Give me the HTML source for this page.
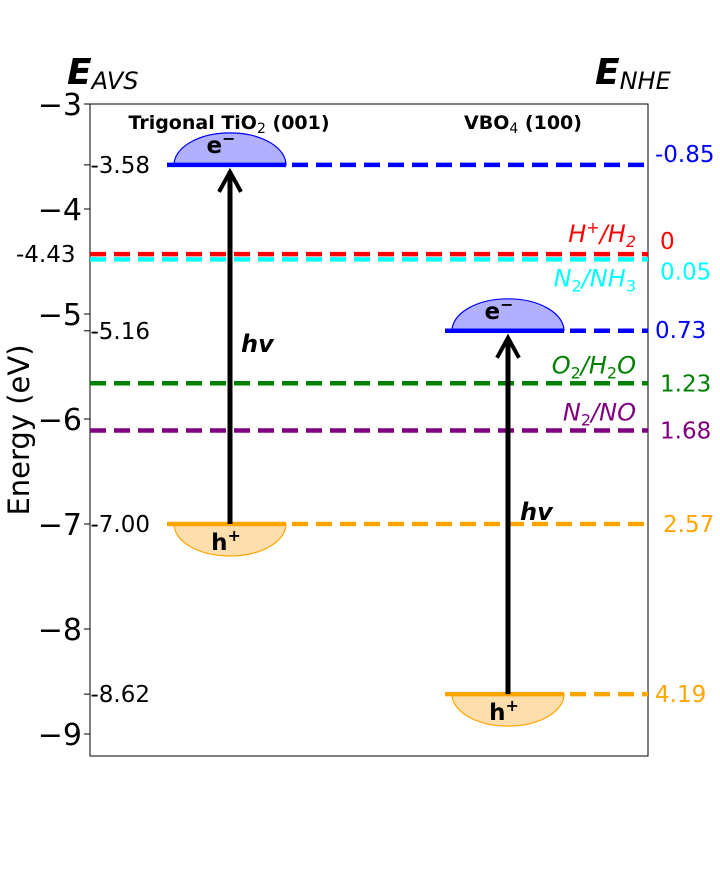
<!DOCTYPE html>
<html><head><meta charset="utf-8"><style>
body{margin:0;background:#fff;width:720px;height:864px;overflow:hidden}
svg{font-family:"DejaVu Sans","Liberation Sans",sans-serif}
</style></head><body>
<svg id="chart" width="720" height="864">
<g id="g"></g>
</svg>
<script>
const tickValues=[-3,-4,-5,-6,-7,-8,-9];
const tickLabels=["\u22123","\u22124","\u22125","\u22126","\u22127","\u22128","\u22129"];
const bandValues=[-3.58,-7.00,-5.16,-8.62];
const bandLabels=["-3.58","-7.00","-5.16","-8.62"];
const bandNhe=["-0.85","2.57","0.73","4.19"];
const bandColors=["blue","orange","blue","orange"];
const bandX=[230,230,508,508];
const redoxValues=[-4.43,-4.48,-5.66,-6.11];
const redoxNhe=["0","0.05","1.23","1.68"];
const redoxNames=["<tspan font-style='italic'>H</tspan><tspan dy='-9' font-size='16'>+</tspan><tspan dy='9' font-style='italic'>/H</tspan><tspan dy='5' font-size='16' font-style='italic'>2</tspan>",
"<tspan font-style='italic'>N</tspan><tspan dy='5' font-size='16'>2</tspan><tspan dy='-5' font-style='italic'>/NH</tspan><tspan dy='5' font-size='16'>3</tspan>",
"<tspan font-style='italic'>O</tspan><tspan dy='5' font-size='16'>2</tspan><tspan dy='-5' font-style='italic'>/H</tspan><tspan dy='5' font-size='16'>2</tspan><tspan dy='-5' font-style='italic'>O</tspan>",
"<tspan font-style='italic'>N</tspan><tspan dy='5' font-size='16'>2</tspan><tspan dy='-5' font-style='italic'>/NO</tspan>"];
const redoxColors=["red","cyan","green","purple"];
const yMax=-3, y0=104, pxPerEv=105;
function Y(v){return y0+(yMax-v)*pxPerEv;}
let s='';
s+=`<rect x="90" y="104" width="558" height="652" fill="none" stroke="#000" stroke-width="1"/>`;
tickValues.forEach((t,i)=>{const y=Y(t);
s+=`<line x1="84" y1="${y}" x2="90" y2="${y}" stroke="#000"/>`;
s+=`<text x="82" y="${y+11}" text-anchor="end" font-size="30">${tickLabels[i]}</text>`;});
s+=`<text transform="translate(29,430) rotate(-90)" text-anchor="middle" font-size="29">Energy (eV)</text>`;
s+=`<text x="67" y="84" font-size="36" font-weight="bold" font-style="italic">E<tspan font-size="24" font-weight="normal" dy="5">AVS</tspan></text>`;
s+=`<text x="595" y="84" font-size="36" font-weight="bold" font-style="italic">E<tspan font-size="24" font-weight="normal" dy="5">NHE</tspan></text>`;
s+=`<text x="229" y="129" text-anchor="middle" font-size="19" font-weight="bold">Trigonal TiO<tspan font-size="14" font-weight="normal" dy="4">2</tspan><tspan dy="-4"> (001)</tspan></text>`;
s+=`<text x="523" y="129" text-anchor="middle" font-size="19" font-weight="bold">VBO<tspan font-size="14" font-weight="normal" dy="4">4</tspan><tspan dy="-4"> (100)</tspan></text>`;
redoxValues.forEach((v,i)=>{const y=Y(v);
s+=`<line x1="90" y1="${y}" x2="648" y2="${y}" stroke="${redoxColors[i]}" stroke-width="4.5" stroke-dasharray="16 8"/>`;
const ly=[-12,27,-10,-10][i];
s+=`<text x="636" y="${y+ly}" text-anchor="end" font-size="24" fill="${redoxColors[i]}">${redoxNames[i]}</text>`;
s+=`<text x="660" y="${y+[-5,20,8,8][i]}" font-size="23" fill="${redoxColors[i]}">${redoxNhe[i]}</text>`;});
bandValues.forEach((v,i)=>{const y=Y(v),cx=bandX[i],cb=i%2==0;
const fill=cb?"#b0b0ff":"#ffdead";
const sweep=cb?1:0;
s+=`<path d="M${cx-56},${y} A56,32 0 0 ${sweep} ${cx+56},${y} Z" fill="${fill}" stroke="${bandColors[i]}" stroke-width="1.2"/>`;
s+=`<line x1="${cx-63}" y1="${y}" x2="${cx+56}" y2="${y}" stroke="${bandColors[i]}" stroke-width="4.5"/>`;
s+=`<line x1="${cx+62}" y1="${y}" x2="648" y2="${y}" stroke="${bandColors[i]}" stroke-width="4.5" stroke-dasharray="16 8"/>`;
s+=`<text x="${cb?cx-9:cx-4}" y="${cb?y-12:y+26}" text-anchor="middle" font-size="23" font-weight="bold">${cb?'e':'h'}<tspan font-size="16" dy="-9">${cb?'\u2212':'+'}</tspan></text>`;
s+=`<line x1="84" y1="${y}" x2="90" y2="${y}" stroke="#000"/>`;
s+=`<text x="150" y="${y+8}" text-anchor="end" font-size="23">${bandLabels[i]}</text>`;
const nx=[655,663,655,655][i];
s+=`<text x="${nx}" y="${y+[-3,8,7,8][i]}" font-size="23" fill="${bandColors[i]}">${bandNhe[i]}</text>`;});
s+=`<text x="16" y="${Y(-4.43)+8}" font-size="23">-4.43</text>`;
[[0,1],[2,3]].forEach(([a,b],k)=>{const cx=bandX[a],yt=Y(bandValues[a])+5,yb=Y(bandValues[b]);
s+=`<line x1="${cx}" y1="${yb}" x2="${cx}" y2="${yt+2}" stroke="#000" stroke-width="5"/>`;
s+=`<polyline points="${cx-11},${yt+22} ${cx},${yt+2} ${cx+11},${yt+22}" fill="none" stroke="#000" stroke-width="4"/>`;
s+=`<text x="${k==0?241:520}" y="${k==0?352:520}" font-size="24" font-weight="bold" font-style="italic">hv</text>`;});
document.getElementById('g').innerHTML=s;
</script>
</body></html>
